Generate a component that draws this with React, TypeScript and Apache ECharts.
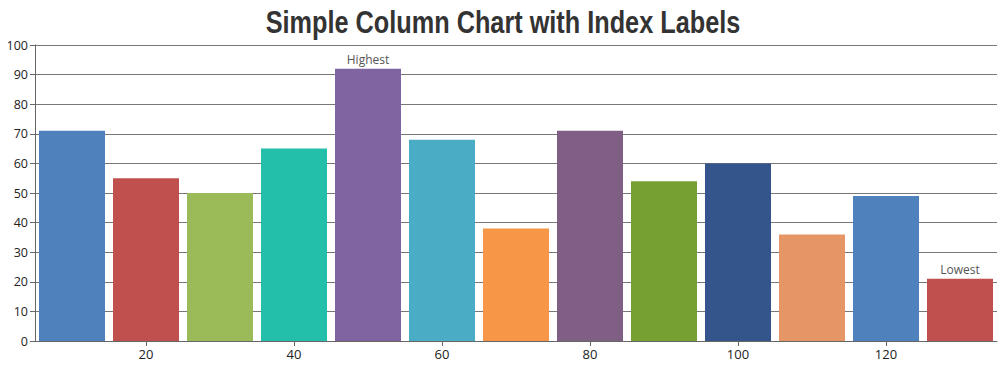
import React, { useEffect, useRef } from "react";
import * as echarts from "echarts";

const xValues = [10, 20, 30, 40, 50, 60, 70, 80, 90, 100, 110, 120, 130];
const yValues = [71, 55, 50, 65, 92, 68, 38, 71, 54, 60, 36, 49, 21];
const indexLabels = ["", "", "", "", "Highest", "", "", "", "", "", "", "", "Lowest"];
const barColors = [
  "#4F81BC", "#C0504E", "#9BBB58", "#23BFAA", "#8064A1", "#4AACC5", "#F79647",
  "#7F6084", "#77A033", "#33558B", "#E59566", "#4F81BC", "#C0504E",
];
const xTicks = [20, 40, 60, 80, 100, 120];
const titleText = "Simple Column Chart with Index Labels";

export default function App() {
  const ref = useRef<HTMLDivElement>(null);
  useEffect(() => {
    const chart = echarts.init(ref.current!, null, { renderer: "svg" });
    const font = "'Open Sans', sans-serif";
    chart.setOption({
      animation: false,
      graphic: [
        {
          type: "text",
          x: 503,
          y: 22,
          scaleX: 0.79,
          style: {
            text: titleText,
            align: "center",
            verticalAlign: "middle",
            fontFamily: "'Liberation Sans', Arial, sans-serif",
            fontWeight: "bold",
            fontSize: 32,
            fill: "#333333",
          },
        },
      ],
      grid: { left: 35, right: 10, top: 45, bottom: 29, containLabel: false },
      xAxis: {
        type: "value",
        min: 5,
        max: 135,
        splitLine: { show: false },
        axisLine: { show: true, lineStyle: { color: "#666666", width: 1 } },
        axisTick: { show: true, length: 5, lineStyle: { color: "#666666" }, customValues: xTicks },
        axisLabel: {
          customValues: xTicks,
          color: "#222222",
          fontSize: 13,
          fontFamily: font,
          margin: 6,
        },
      },
      yAxis: {
        type: "value",
        min: 0,
        max: 100,
        interval: 10,
        axisLine: { show: true, lineStyle: { color: "#666666", width: 1 } },
        axisTick: { show: true, length: 5, lineStyle: { color: "#666666" } },
        axisLabel: { color: "#222222", fontSize: 12.5, fontFamily: font, margin: 7 },
        splitLine: { show: true, lineStyle: { color: "#777777", width: 1 } },
      },
      series: [
        {
          type: "bar",
          barWidth: 66,
          data: xValues.map((x, i) => ({
            value: [x, yValues[i]],
            itemStyle: { color: barColors[i] },
            label: {
              show: indexLabels[i] !== "",
              position: "top",
              distance: 3,
              formatter: indexLabels[i],
              color: "#555555",
              fontSize: 12,
              fontFamily: font,
            },
          })),
        },
      ],
    });
    return () => chart.dispose();
  }, []);
  return <div ref={ref} style={{ width: 1007, height: 370, margin: -8 }} />;
}
